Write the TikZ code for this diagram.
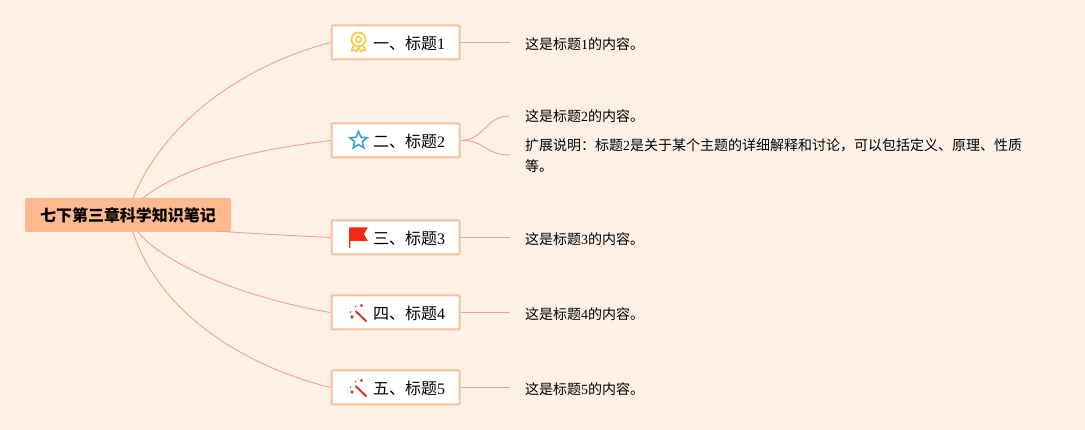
\documentclass[tikz,border=0pt]{standalone}
\usepackage{fontspec}
\setmainfont{Noto Sans CJK SC}
\newfontfamily\numfont{Liberation Serif}
\usetikzlibrary{shapes.geometric}

\definecolor{paper}{HTML}{FFF1E6}
\definecolor{rootfill}{HTML}{FFB98F}
\definecolor{boxline}{HTML}{F8BF9C}
\definecolor{branch}{HTML}{F5A18A}
\definecolor{medal}{HTML}{F7CC45}
\definecolor{stargood}{HTML}{3AA0DC}
\definecolor{flagred}{HTML}{F5290F}
\definecolor{wandred}{HTML}{D9392B}

\tikzset{
    rootbox/.style={fill=rootfill, rounded corners=2pt, minimum width=206pt, minimum height=34pt,
        inner sep=0pt, font=\fontsize{16}{20}\selectfont\bfseries},
    topicbox/.style={draw=boxline, line width=2pt, fill=white, rounded corners=1pt, minimum width=128pt,
        minimum height=34pt, inner sep=0pt, font=\fontsize{16}{20}\selectfont},
    topiclabel/.style={anchor=west, inner sep=0pt, font=\fontsize{16}{20}\selectfont},
    contenttext/.style={anchor=west, inner sep=0pt, align=left, font=\fontsize{14}{21}\selectfont},
    branchline/.style={draw=branch, line width=0.9pt},
}

\begin{document}
\begin{tikzpicture}[x=1pt,y=-1pt]
        % zeichne Hintergrund
        \fill[paper] (0,0) rectangle (1085,430);
        \useasboundingbox (0,0) rectangle (1085,430);

        % zeichne Linien (unter den Knoten)
        \coordinate (rootTop) at (133,198);
        \coordinate (rootTopB) at (143,198);
        \coordinate (rootBot) at (133,232);
        \coordinate (rootBotD) at (138,232);
        \coordinate (rootSide) at (215,231);
        \coordinate (endA) at (510,42.5);
        \coordinate (endB) at (510,116);
        \coordinate (endBB) at (510,155);
        \coordinate (endC) at (510,237.5);
        \coordinate (endD) at (510,312.5);
        \coordinate (endE) at (510,387.5);

        % zeichne Knoten
        \node[rootbox] (root) at (128,215) {七下第三章科学知识笔记};
        \node[topicbox] (topicA) at (395.5,42.5) {};
        \node[topicbox] (topicB) at (395.5,140.5) {};
        \node[topicbox] (topicC) at (395.5,237.5) {};
        \node[topicbox] (topicD) at (395.5,312.5) {};
        \node[topicbox] (topicE) at (395.5,387.5) {};

        \draw[branchline] (rootTop) .. controls (165,120) and (245,65) .. (topicA.west);
        \draw[branchline] (rootTopB) .. controls (185,165) and (255,150) .. (topicB.west);
        \draw[branchline] (rootSide) .. controls (260,234) and (300,236) .. (topicC.west);
        \draw[branchline] (rootBotD) .. controls (165,265) and (245,298) .. (topicD.west);
        \draw[branchline] (rootBot) .. controls (158,310) and (240,365) .. (topicE.west);

        \draw[branchline] (topicA.east) -- (endA);
        \draw[branchline] (topicB.east) .. controls (485,140) and (485,116) .. (endB);
        \draw[branchline] (topicB.east) .. controls (485,140) and (485,155) .. (endBB);
        \draw[branchline] (topicC.east) -- (endC);
        \draw[branchline] (topicD.east) -- (endD);
        \draw[branchline] (topicE.east) -- (endE);

        % zeichne Labels
        \node[topiclabel] (labelA) at (373,43) {一、标题{\numfont 1}};
        \node[topiclabel] (labelB) at (373,141) {二、标题{\numfont 2}};
        \node[topiclabel] (labelC) at (373,238) {三、标题{\numfont 3}};
        \node[topiclabel] (labelD) at (373,313) {四、标题{\numfont 4}};
        \node[topiclabel] (labelE) at (373,388) {五、标题{\numfont 5}};

        \node[contenttext] (textA) at (525,44) {这是标题{\numfont 1}的内容。};
        \node[contenttext] (textB) at (525,116) {这是标题{\numfont 2}的内容。};
        \node[contenttext] (textBB) at (525,156) {扩展说明：标题{\numfont 2}是关于某个主题的详细解释和讨论，可以包括定义、原理、性质\\等。};
        \node[contenttext] (textC) at (525,239) {这是标题{\numfont 3}的内容。};
        \node[contenttext] (textD) at (525,314) {这是标题{\numfont 4}的内容。};
        \node[contenttext] (textE) at (525,389) {这是标题{\numfont 5}的内容。};

        % Medaille
        \draw[medal, line width=1.8pt] (358.5,39.5) circle (7);
        \draw[medal, line width=1.6pt] (358.5,39.5) circle (2.8);
        \draw[medal, line width=1.7pt, line join=round] (353.5,46) -- (351.5,50.5) -- (354.5,50) -- (356.5,51.5) -- (358.5,47.5)
            -- (360.5,51.5) -- (362.5,50) -- (365.5,50.5) -- (363.5,46);

        % Stern
        \node[star, star points=5, star point ratio=2.2, draw=stargood, line width=1.6pt, fill=white,
            minimum size=18pt, inner sep=0pt] (starB) at (358.5,140.5) {};

        % Flagge
        \fill[flagred] (349.2,227.5) -- (367.8,227.5) -- (364,234) -- (367.8,241) -- (350.4,241)
            -- (350.4,248) -- (349.2,248) -- cycle;

        % Zauberstab
        \draw[wandred, line width=2pt] (355.5,311) -- (366.5,321.5);
        \fill[wandred] (361.5,305.5) circle (1.7);
        \fill[wandred] (352,317) circle (1.9);
        \fill[wandred] (355.5,306.5) circle (0.8);
        \fill[wandred] (350.5,312) circle (0.8);
        \draw[wandred, line width=2pt] (355.5,386) -- (366.5,396.5);
        \fill[wandred] (361.5,380.5) circle (1.7);
        \fill[wandred] (352,392) circle (1.9);
        \fill[wandred] (355.5,381.5) circle (0.8);
        \fill[wandred] (350.5,387) circle (0.8);
    \end{tikzpicture}
\end{document}
